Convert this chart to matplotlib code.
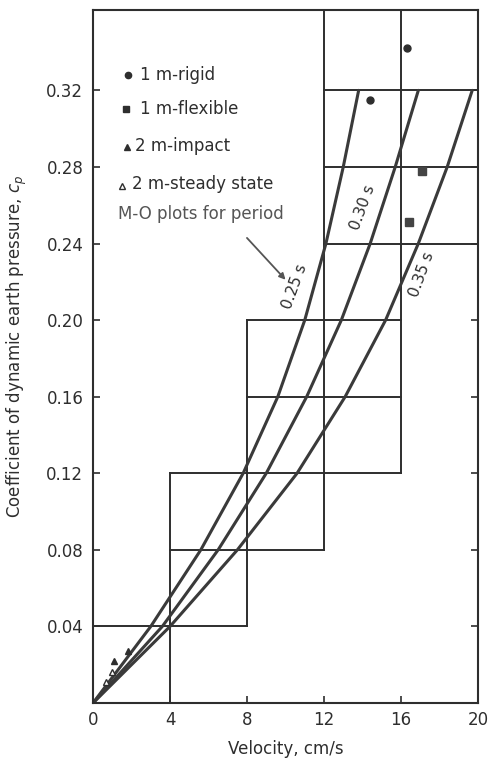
import matplotlib
matplotlib.use("Agg")
import matplotlib.pyplot as plt

# curve y levels and velocities (M-O plots for period)
cp_levels = [0.0, 0.02, 0.04, 0.08, 0.12, 0.16, 0.20, 0.24, 0.28, 0.32]
v_025 = [0.0, 1.5, 3.0, 5.6, 7.8, 9.6, 11.0, 12.1, 13.0, 13.8]
v_030 = [0.0, 1.8, 3.6, 6.5, 9.0, 11.1, 12.9, 14.4, 15.7, 16.9]
v_035 = [0.0, 2.0, 4.0, 7.5, 10.6, 13.1, 15.2, 16.9, 18.4, 19.7]

# test points
rigid_v = [14.4, 16.3]
rigid_cp = [0.315, 0.342]
flex_v = [17.1, 16.4]
flex_cp = [0.278, 0.251]
impact_v = [1.1, 1.8]
impact_cp = [0.022, 0.027]
steady_v = [0.7, 1.0]
steady_cp = [0.011, 0.016]

# staircase boxes: (y, x0, x1) and (x, y0, y1)
h_lines = [(0.04, 0, 8), (0.08, 4, 12), (0.12, 4, 16), (0.16, 8, 16),
           (0.20, 8, 16), (0.24, 12, 20), (0.28, 12, 20), (0.32, 12, 20)]
v_lines = [(4, 0, 0.12), (8, 0.04, 0.20), (12, 0.08, 0.362), (16, 0.12, 0.362)]

x_ticks = [0, 4, 8, 12, 16, 20]
y_ticks = [0.04, 0.08, 0.12, 0.16, 0.20, 0.24, 0.28, 0.32]

ink = "#2e2e2e"
plt.rcParams["font.family"] = ["DejaVu Sans"]

fig = plt.figure(figsize=(4.88, 7.61), dpi=100)
ax = fig.add_axes([0.1906, 0.0762, 0.7889, 0.9107])

for y, x0, x1 in h_lines:
    ax.plot([x0, x1], [y, y], color=ink, lw=1.4)
for x, y0, y1 in v_lines:
    ax.plot([x, x], [y0, y1], color=ink, lw=1.4)

for v in (v_025, v_030, v_035):
    ax.plot(v, cp_levels, color="#3a3a3a", lw=2.2, solid_capstyle="round",
            solid_joinstyle="round")

ax.plot(rigid_v, rigid_cp, "o", color=ink, ms=5, ls="none")
ax.plot(flex_v, flex_cp, "s", color="#444444", ms=5.5, ls="none")
ax.plot(impact_v, impact_cp, "^", color=ink, ms=5, ls="none")
ax.plot(steady_v, steady_cp, "^", mfc="white", mec=ink, ms=5, ls="none")

# curve labels
ax.text(10.5, 0.2175, "0.25 s", rotation=70, fontsize=11, color=ink,
        ha="center", va="center")
ax.text(14.0, 0.259, "0.30 s", rotation=70, fontsize=11, color=ink,
        ha="center", va="center")
ax.text(17.1, 0.224, "0.35 s", rotation=70, fontsize=11, color=ink,
        ha="center", va="center")

# legend drawn by hand
tr = ax.transAxes
ax.plot([0.091], [0.906], "o", color=ink, ms=4.5, transform=tr)
ax.text(0.122, 0.906, "1 m-rigid", transform=tr, fontsize=12, va="center", color=ink)
ax.plot([0.086], [0.857], "s", color=ink, ms=5, transform=tr)
ax.text(0.122, 0.857, "1 m-flexible", transform=tr, fontsize=12, va="center", color=ink)
ax.plot([0.088], [0.802], "^", color=ink, ms=5, transform=tr)
ax.text(0.109, 0.804, "2 m-impact", transform=tr, fontsize=12, va="center", color=ink)
ax.plot([0.075], [0.746], "^", mfc="white", mec=ink, ms=4.5, transform=tr)
ax.text(0.101, 0.749, "2 m-steady state", transform=tr, fontsize=12, va="center", color=ink)
ax.text(0.065, 0.706, "M-O plots for period", transform=tr, fontsize=12,
        va="center", color="#555555")
ax.annotate("", xy=(10.1, 0.220), xytext=(7.9, 0.244),
            arrowprops=dict(arrowstyle="-|>", color="#555555", lw=1.3,
                            mutation_scale=9))

ax.set_xlim(0, 20)
ax.set_ylim(0, 0.362)
ax.set_xticks(x_ticks)
ax.set_xticklabels([str(t) for t in x_ticks])
ax.set_yticks(y_ticks)
ax.set_yticklabels([f"{t:.2f}" for t in y_ticks])
ax.tick_params(direction="in", length=5, width=1.2, labelsize=12,
               colors=ink, right=True)
ax.tick_params(axis="y", pad=7)
ax.tick_params(axis="x", pad=6)
for s in ax.spines.values():
    s.set_linewidth(1.5)
    s.set_color(ink)

ax.set_xlabel("Velocity, cm/s", fontsize=12, color=ink, labelpad=8)
ax.set_ylabel("Coefficient of dynamic earth pressure, $c_p$", fontsize=12, color=ink)
ax.yaxis.set_label_coords(-0.166, 0.514)

fig.savefig("out.png", dpi=100)
